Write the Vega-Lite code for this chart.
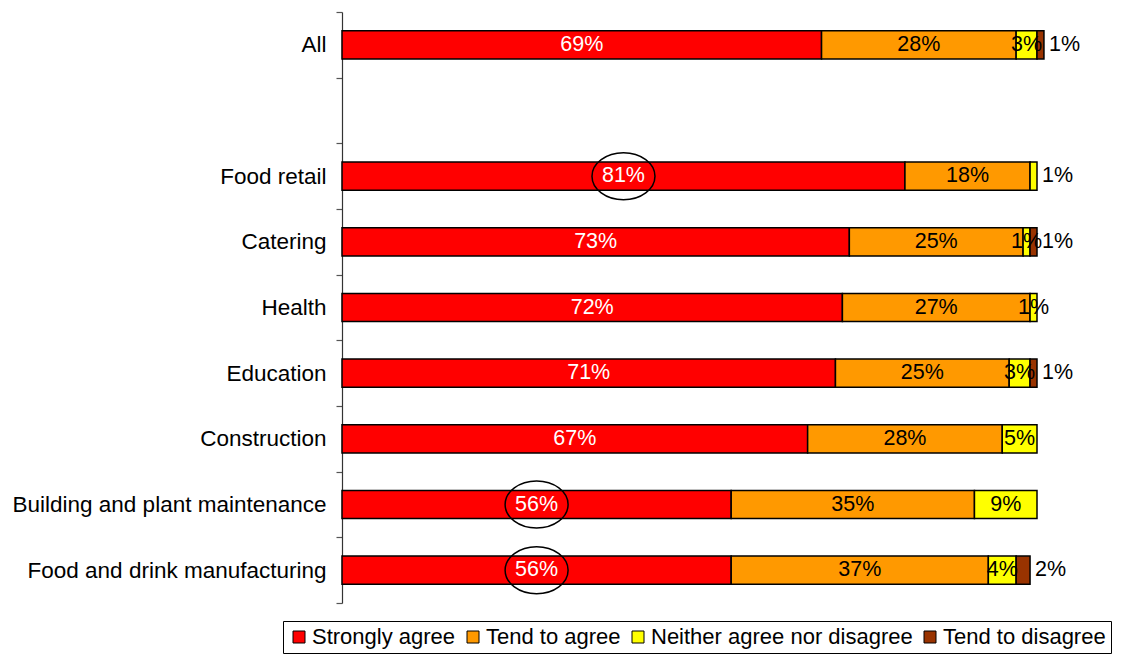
{
  "$schema": "https://vega.github.io/schema/vega-lite/v6.json",
  "autosize": {"type": "none"},
  "padding": {"left": 342, "top": 12, "right": 88, "bottom": 56},
  "width": 695,
  "height": 591,
  "background": "white",
  "config": {
    "view": {"stroke": null},
    "font": "Liberation Sans"
  },
  "data": {
    "values": [
      {"g": "All", "r": "Strongly agree", "v": 69},
      {"g": "All", "r": "Tend to agree", "v": 28},
      {"g": "All", "r": "Neither agree nor disagree", "v": 3},
      {"g": "All", "r": "Tend to disagree", "v": 1},
      {"g": "Food retail", "r": "Strongly agree", "v": 81},
      {"g": "Food retail", "r": "Tend to agree", "v": 18},
      {"g": "Food retail", "r": "Neither agree nor disagree", "v": 1},
      {"g": "Catering", "r": "Strongly agree", "v": 73},
      {"g": "Catering", "r": "Tend to agree", "v": 25},
      {"g": "Catering", "r": "Neither agree nor disagree", "v": 1},
      {"g": "Catering", "r": "Tend to disagree", "v": 1},
      {"g": "Health", "r": "Strongly agree", "v": 72},
      {"g": "Health", "r": "Tend to agree", "v": 27},
      {"g": "Health", "r": "Neither agree nor disagree", "v": 1},
      {"g": "Education", "r": "Strongly agree", "v": 71},
      {"g": "Education", "r": "Tend to agree", "v": 25},
      {"g": "Education", "r": "Neither agree nor disagree", "v": 3},
      {"g": "Education", "r": "Tend to disagree", "v": 1},
      {"g": "Construction", "r": "Strongly agree", "v": 67},
      {"g": "Construction", "r": "Tend to agree", "v": 28},
      {"g": "Construction", "r": "Neither agree nor disagree", "v": 5},
      {"g": "Building and plant maintenance", "r": "Strongly agree", "v": 56},
      {"g": "Building and plant maintenance", "r": "Tend to agree", "v": 35},
      {"g": "Building and plant maintenance", "r": "Neither agree nor disagree", "v": 9},
      {"g": "Food and drink manufacturing", "r": "Strongly agree", "v": 56},
      {"g": "Food and drink manufacturing", "r": "Tend to agree", "v": 37},
      {"g": "Food and drink manufacturing", "r": "Neither agree nor disagree", "v": 4},
      {"g": "Food and drink manufacturing", "r": "Tend to disagree", "v": 2}
    ]
  },
  "transform": [
    {"calculate": "indexof(['Strongly agree','Tend to agree','Neither agree nor disagree','Tend to disagree'], datum.r)", "as": "o"},
    {"stack": "v", "groupby": ["g"], "sort": [{"field": "o", "order": "ascending"}], "as": ["x0", "x1"]},
    {"calculate": "(datum.x0 + datum.x1) / 2", "as": "mid"},
    {"calculate": "datum.v + '%'", "as": "lab"}
  ],
  "encoding": {
    "y": {
      "field": "g",
      "type": "nominal",
      "title": null,
      "scale": {
        "domain": ["All", " ", "Food retail", "Catering", "Health", "Education", "Construction", "Building and plant maintenance", "Food and drink manufacturing"],
        "paddingInner": 0,
        "paddingOuter": 0
      },
      "axis": {
        "tickBand": "extent",
        "labelFontSize": 22.5,
        "labelFont": "Liberation Sans",
        "labelColor": "black",
        "labelLimit": 400,
        "labelPadding": 10,
        "tickSize": 6,
        "tickColor": "#555",
        "domainColor": "#333",
        "domainWidth": 1.2,
        "tickWidth": 1.2
      }
    }
  },
  "layer": [
    {
      "mark": {"type": "bar", "stroke": "black", "strokeWidth": 1.5, "height": {"band": 0.43}},
      "encoding": {
        "x": {"field": "x0", "type": "quantitative", "scale": {"domain": [0, 100], "nice": false, "zero": true}, "axis": null},
        "x2": {"field": "x1"},
        "color": {
          "field": "r",
          "type": "nominal",
          "scale": {
            "domain": ["Strongly agree", "Tend to agree", "Neither agree nor disagree", "Tend to disagree"],
            "range": ["#FF0000", "#FF9900", "#FFFF00", "#993300"]
          },
          "legend": {
            "orient": "none",
            "legendX": -59,
            "legendY": 609,
            "direction": "horizontal",
            "columns": 4,
            "title": null,
            "strokeColor": "black",
            "fillColor": "white",
            "padding": 5,
            "symbolType": "square",
            "symbolSize": 144,
            "symbolStrokeColor": "black",
            "symbolStrokeWidth": 1,
            "symbolOpacity": 1,
            "labelFontSize": 22,
            "labelFont": "Liberation Sans",
            "labelColor": "black",
            "labelOffset": 2,
            "columnPadding": 6,
            "labelLimit": 400
          }
        }
      }
    },
    {
      "transform": [{"filter": "datum.r == 'Strongly agree'"}],
      "mark": {"type": "text", "color": "white", "fontSize": 21.5, "font": "Liberation Sans", "baseline": "middle"},
      "encoding": {
        "x": {"field": "mid", "type": "quantitative"},
        "text": {"field": "lab"}
      }
    },
    {
      "transform": [{"filter": "datum.r != 'Strongly agree' && datum.r != 'Tend to disagree' && !(datum.g == 'Food retail' && datum.r == 'Neither agree nor disagree')"}],
      "mark": {"type": "text", "color": "black", "fontSize": 21.5, "font": "Liberation Sans", "baseline": "middle"},
      "encoding": {
        "x": {"field": "mid", "type": "quantitative"},
        "text": {"field": "lab"}
      }
    },
    {
      "transform": [{"filter": "datum.r == 'Tend to disagree' || (datum.g == 'Food retail' && datum.r == 'Neither agree nor disagree')"}],
      "mark": {"type": "text", "color": "black", "fontSize": 21.5, "font": "Liberation Sans", "baseline": "middle", "align": "left", "dx": 5},
      "encoding": {
        "x": {"field": "x1", "type": "quantitative"},
        "text": {"field": "lab"}
      }
    },
    {
      "transform": [{"filter": "datum.r == 'Strongly agree' && (datum.g == 'Food retail' || datum.g == 'Building and plant maintenance' || datum.g == 'Food and drink manufacturing')"}],
      "mark": {
        "type": "point",
        "shape": "M -1.34 0 A 1.34 1 0 1 0 1.34 0 A 1.34 1 0 1 0 -1.34 0 Z",
        "size": 2209,
        "filled": false,
        "stroke": "black",
        "strokeWidth": 1.5,
        "opacity": 1
      },
      "encoding": {
        "x": {"field": "mid", "type": "quantitative"}
      }
    }
  ]
}
